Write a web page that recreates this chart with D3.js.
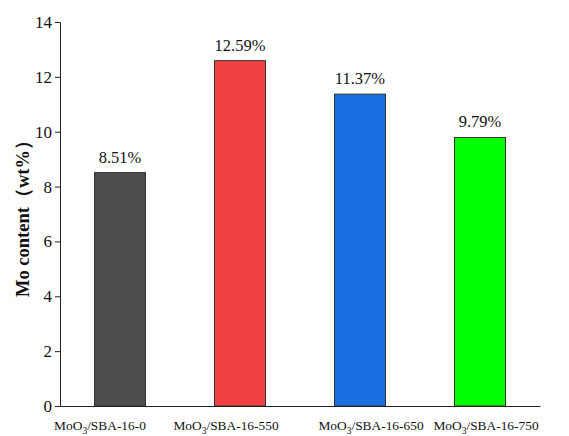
<!DOCTYPE html>
<html>
<head>
<meta charset="utf-8">
<script src="https://cdn.jsdelivr.net/npm/d3@7"></script>
<style>
  html, body { margin: 0; padding: 0; background: #fff; }
</style>
</head>
<body>
<svg id="chart" width="569" height="436"></svg>
<script>
// Mo loading of each calcined sample
const samples = ["SBA-16-0", "SBA-16-550", "SBA-16-650", "SBA-16-750"];
const moContent = [8.51, 12.59, 11.37, 9.79];
const barColors = ["#4d4d4d", "#f04242", "#1a6ee0", "#00ff00"];
const yTicks = [0, 2, 4, 6, 8, 10, 12, 14];

const serif = "'Liberation Serif', 'Times New Roman', Tinos, 'DejaVu Serif', serif";
const margin = { top: 22, right: 29, bottom: 30, left: 60 };
const width = 569, height = 436;
// horizontal nudges so the long category names do not collide
const labelNudge = [-20, -14, 11, 6];

const svg = d3.select("#chart").style("font-family", serif);

const x = d3.scaleBand()
  .domain(samples)
  .range([margin.left, width - margin.right])
  .paddingInner(0.575)
  .paddingOuter(0.2875);

const y = d3.scaleLinear()
  .domain([0, 14])
  .range([height - margin.bottom, margin.top]);

// bars
svg.append("g")
  .selectAll("rect")
  .data(moContent)
  .join("rect")
  .attr("x", (d, i) => x(samples[i]))
  .attr("y", d => y(d))
  .attr("width", x.bandwidth())
  .attr("height", d => y(0) - y(d))
  .attr("fill", (d, i) => barColors[i])
  .attr("stroke", "#333")
  .attr("stroke-width", 1);

// value labels
svg.append("g")
  .selectAll("text")
  .data(moContent)
  .join("text")
  .attr("x", (d, i) => x(samples[i]) + x.bandwidth() / 2)
  .attr("y", d => y(d) - 10)
  .attr("text-anchor", "middle")
  .style("font-family", serif)
  .style("font-size", "16.5px")
  .attr("fill", "#111")
  .text(d => d.toFixed(2) + "%");

// y axis
const yAxis = svg.append("g")
  .attr("transform", `translate(${margin.left},0)`)
  .call(d3.axisLeft(y).tickValues(yTicks).tickSize(5).tickPadding(3).tickFormat(d3.format("d")));
yAxis.attr("font-family", null).attr("font-size", null);
yAxis.selectAll("text")
  .style("font-family", serif)
  .style("font-size", "17px")
  .attr("fill", "#111");
yAxis.selectAll("line,path").attr("stroke", "#222");

// x axis
const xAxis = svg.append("g")
  .attr("transform", `translate(0,${y(0)})`)
  .call(d3.axisBottom(x).tickSize(0).tickSizeOuter(0).tickFormat(""));
xAxis.select("path").attr("stroke", "#222");
xAxis.selectAll(".tick text").remove();

// category labels with subscript
const catLabels = svg.append("g")
  .selectAll("text")
  .data(samples)
  .join("text")
  .attr("x", (d, i) => x(d) + x.bandwidth() / 2 + labelNudge[i])
  .attr("y", 430)
  .attr("text-anchor", "middle")
  .style("font-family", serif)
  .style("font-size", "13.4px")
  .attr("fill", "#111");
catLabels.append("tspan").text("MoO");
catLabels.append("tspan").style("font-size", "9.5px").attr("dy", 4).text("3");
catLabels.append("tspan").attr("dy", -4).text(d => "/" + d);

// y axis title
svg.append("text")
  .attr("transform", `translate(29,${(y(0) + y(14)) / 2}) rotate(-90)`)
  .attr("text-anchor", "middle")
  .style("font-family", serif)
  .style("font-size", "18.5px")
  .style("font-weight", "bold")
  .attr("fill", "#111")
  .text("Mo content（wt%）");
</script>
</body>
</html>
